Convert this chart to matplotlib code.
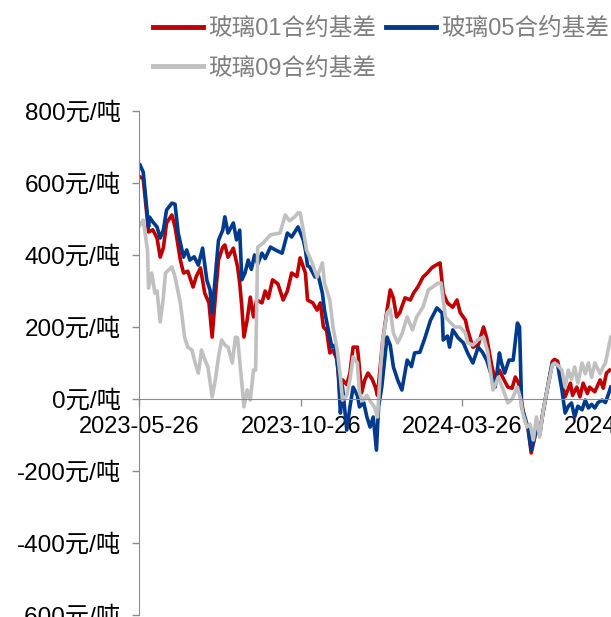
import matplotlib
matplotlib.use('Agg')
import matplotlib.pyplot as plt
import matplotlib.dates as mdates
from matplotlib.ticker import FixedLocator
import pandas as pd

plt.rcParams['font.family'] = ['Liberation Sans', 'Noto Sans CJK SC', 'DejaVu Sans']

# ---------------- data ----------------
labels = ['玻璃01合约基差', '玻璃05合约基差', '玻璃09合约基差']
colors = ['#C00000', '#003A8C', '#C0C0C0']

dates_01 = ['2023-05-27','2023-05-30','2023-06-04','2023-06-08','2023-06-12','2023-06-15','2023-06-18','2023-06-21',
            '2023-06-26','2023-06-29','2023-07-04','2023-07-07','2023-07-11','2023-07-16','2023-07-19','2023-07-23',
            '2023-07-27','2023-07-31','2023-08-03','2023-08-06','2023-08-09','2023-08-13','2023-08-15','2023-08-18',
            '2023-08-23','2023-08-27','2023-08-29','2023-08-31','2023-09-02','2023-09-05','2023-09-08','2023-09-11',
            '2023-09-14','2023-09-19','2023-09-22','2023-09-25','2023-09-29','2023-10-04','2023-10-09','2023-10-13',
            '2023-10-17','2023-10-22','2023-10-25','2023-10-30','2023-11-01','2023-11-06','2023-11-10','2023-11-13',
            '2023-11-16','2023-11-19','2023-11-22','2023-11-25','2023-11-29','2023-12-02','2023-12-04','2023-12-08',
            '2023-12-11','2023-12-14','2023-12-18','2023-12-19','2023-12-22','2023-12-25','2023-12-28','2024-01-01',
            '2024-01-04','2024-01-06','2024-01-08','2024-01-11','2024-01-15','2024-01-18','2024-01-21','2024-01-24',
            '2024-01-27','2024-02-01','2024-02-06','2024-02-09','2024-02-13','2024-02-18','2024-02-22','2024-02-26',
            '2024-02-29','2024-03-05','2024-03-08','2024-03-12','2024-03-14','2024-03-17','2024-03-21','2024-03-24',
            '2024-03-29','2024-03-31','2024-04-05','2024-04-10','2024-04-15','2024-04-18','2024-04-23','2024-04-26',
            '2024-04-30','2024-05-03','2024-05-08','2024-05-12','2024-05-15','2024-05-18','2024-05-21','2024-05-24',
            '2024-05-27','2024-05-30','2024-06-02','2024-06-04','2024-06-07','2024-06-10','2024-06-14','2024-06-19',
            '2024-06-21','2024-06-24','2024-06-28','2024-07-01','2024-07-06','2024-07-08','2024-07-12','2024-07-15',
            '2024-07-18','2024-07-22','2024-07-24','2024-07-29','2024-08-03','2024-08-06','2024-08-09','2024-08-12']
values_01 = [617, 612, 464, 470, 447, 394, 420, 489,
             511, 478, 386, 350, 355, 311, 340, 364,
             294, 267, 172, 283, 386, 422, 428, 394,
             419, 367, 322, 256, 172, 219, 283, 228,
             275, 267, 300, 280, 331, 320, 275, 300,
             350, 340, 392, 350, 275, 267, 247, 267,
             200, 190, 128, 135, 110, -3, 53, 40,
             72, 144, 144, 117, 17, 53, 72, 55,
             33, 10, 72, 164, 247, 303, 280, 228,
             240, 281, 275, 294, 311, 339, 350, 364,
             370, 378, 294, 267, 262, 255, 275, 240,
             219, 192, 144, 150, 200, 170, 89, 53,
             80, 61, 33, 30, 61, 45, -11, -58,
             -80, -150, -110, -67, -95, -39, 25, 105,
             110, 105, 44, 6, 44, 10, 33, 6,
             44, 15, 33, 20, 53, 30, 72, 80]

dates_05 = ['2023-05-27','2023-05-30','2023-06-04','2023-06-05','2023-06-08','2023-06-12','2023-06-15','2023-06-18',
            '2023-06-21','2023-06-26','2023-06-29','2023-07-02','2023-07-07','2023-07-10','2023-07-13','2023-07-17',
            '2023-07-21','2023-07-25','2023-07-29','2023-08-01','2023-08-03','2023-08-06','2023-08-09','2023-08-13',
            '2023-08-15','2023-08-18','2023-08-23','2023-08-26','2023-08-29','2023-08-31','2023-09-03','2023-09-06',
            '2023-09-09','2023-09-12','2023-09-15','2023-09-19','2023-09-22','2023-09-27','2023-10-01','2023-10-08',
            '2023-10-13','2023-10-17','2023-10-23','2023-10-28','2023-10-30','2023-11-01','2023-11-03','2023-11-08',
            '2023-11-11','2023-11-15','2023-11-17','2023-11-20','2023-11-24','2023-11-27','2023-11-30','2023-12-02',
            '2023-12-04','2023-12-08','2023-12-11','2023-12-14','2023-12-18','2023-12-20','2023-12-24','2023-12-27',
            '2023-12-30','2024-01-02','2024-01-05','2024-01-07','2024-01-10','2024-01-13','2024-01-15','2024-01-18',
            '2024-01-21','2024-01-25','2024-01-29','2024-02-03','2024-02-07','2024-02-10','2024-02-15','2024-02-20',
            '2024-02-25','2024-02-27','2024-03-02','2024-03-07','2024-03-08','2024-03-12','2024-03-14','2024-03-17',
            '2024-03-22','2024-03-27','2024-03-31','2024-04-05','2024-04-10','2024-04-14','2024-04-18','2024-04-23',
            '2024-04-26','2024-04-30','2024-05-02','2024-05-05','2024-05-09','2024-05-13','2024-05-17','2024-05-19',
            '2024-05-21','2024-05-24','2024-05-27','2024-05-30','2024-06-02','2024-06-04','2024-06-07','2024-06-10',
            '2024-06-14','2024-06-19','2024-06-21','2024-06-24','2024-06-28','2024-07-01','2024-07-04','2024-07-07',
            '2024-07-10','2024-07-13','2024-07-17','2024-07-20','2024-07-23','2024-07-26','2024-07-29','2024-08-01',
            '2024-08-05','2024-08-08','2024-08-10','2024-08-13']
values_05 = [650, 630, 478, 505, 492, 478, 447, 470,
             525, 544, 541, 461, 394, 414, 386, 395,
             372, 419, 330, 303, 239, 339, 441, 469,
             506, 461, 489, 442, 469, 331, 350, 386,
             360, 400, 375, 405, 390, 422, 415, 405,
             461, 450, 478, 442, 414, 370, 367, 339,
             345, 294, 247, 200, 144, 150, 72, -39,
             33, -86, -22, 33, 10, -22, -10, -50,
             -78, -50, -142, -22, 33, 117, 172, 150,
             89, 53, 25, 108, 90, 128, 130, 172,
             219, 230, 253, 239, 164, 175, 144, 192,
             170, 156, 128, 100, 144, 130, 108, 61,
             33, 128, 100, 72, 108, 108, 211, 200,
             -22, -50, -80, -142, -110, -78, -100, -39,
             25, 100, 100, 94, 25, -39, -20, -11,
             -50, -20, -30, -3, -25, -15, -25, -10,
             -3, -10, 6, 33]

dates_09 = ['2023-05-27','2023-05-30','2023-06-03','2023-06-04','2023-06-07','2023-06-10','2023-06-12','2023-06-15',
            '2023-06-18','2023-06-20','2023-06-26','2023-06-29','2023-07-04','2023-07-08','2023-07-11','2023-07-15',
            '2023-07-18','2023-07-21','2023-07-24','2023-07-27','2023-07-30','2023-08-03','2023-08-06','2023-08-09',
            '2023-08-12','2023-08-15','2023-08-18','2023-08-22','2023-08-25','2023-08-27','2023-08-31','2023-09-02',
            '2023-09-05','2023-09-08','2023-09-11','2023-09-13','2023-09-15','2023-09-20','2023-09-27','2023-10-06',
            '2023-10-11','2023-10-15','2023-10-20','2023-10-23','2023-10-25','2023-10-28','2023-10-31','2023-11-05',
            '2023-11-10','2023-11-15','2023-11-17','2023-11-22','2023-11-25','2023-11-29','2023-12-02','2023-12-04',
            '2023-12-08','2023-12-11','2023-12-14','2023-12-18','2023-12-20','2023-12-23','2023-12-27','2023-12-30',
            '2024-01-03','2024-01-06','2024-01-09','2024-01-11','2024-01-15','2024-01-18','2024-01-21','2024-01-25',
            '2024-01-29','2024-02-03','2024-02-08','2024-02-12','2024-02-18','2024-02-23','2024-02-27','2024-03-03',
            '2024-03-06','2024-03-10','2024-03-14','2024-03-19','2024-03-24','2024-03-29','2024-03-31','2024-04-05',
            '2024-04-10','2024-04-15','2024-04-19','2024-04-24','2024-04-29','2024-05-03','2024-05-08','2024-05-12',
            '2024-05-17','2024-05-20','2024-05-22','2024-05-26','2024-05-29','2024-06-01','2024-06-04','2024-06-07',
            '2024-06-10','2024-06-14','2024-06-19','2024-06-21','2024-06-24','2024-06-28','2024-07-01','2024-07-04',
            '2024-07-07','2024-07-10','2024-07-13','2024-07-17','2024-07-20','2024-07-23','2024-07-26','2024-07-29',
            '2024-08-03','2024-08-06','2024-08-08','2024-08-10','2024-08-13']
values_09 = [483, 497, 414, 308, 350, 294, 300, 214,
             283, 350, 367, 339, 267, 172, 144, 136,
             100, 72, 136, 110, 89, 6, 53, 117,
             164, 150, 144, 100, 172, 170, 44, -22,
             25, -3, 80, 80, 422, 433, 456, 461,
             511, 495, 506, 517, 517, 469, 414, 380,
             339, 378, 322, 275, 200, 136, 61, -3,
             10, 53, 117, 100, 17, -5, 10, -5,
             -22, -50, 89, 164, 239, 250, 183, 156,
             180, 228, 192, 228, 256, 303, 311, 322,
             322, 228, 215, 200, 200, 183, 156, 150,
             165, 172, 130, 25, 61, 30, -11, 0,
             33, 0, -39, -78, -70, -114, -50, -106,
             -39, 25, 95, 100, 94, 80, 33, 80,
             55, 89, 44, 100, 70, 100, 60, 100,
             70, 90, 100, 128, 172]

xticks = ['2023-05-26', '2023-10-26', '2024-03-26', '2024-08-26']
yticks = [-600, -400, -200, 0, 200, 400, 600, 800]
ytick_labels = [f'{v}元/吨' for v in yticks]

# ---------------- figure ----------------
W, H = 611, 617
fig = plt.figure(figsize=(W / 100, H / 100), dpi=100)
x_start, x_end = pd.Timestamp('2023-05-26'), pd.Timestamp('2024-09-26')
px_per_day = 1.06
ax_w = (x_end - x_start).days * px_per_day
ax = fig.add_axes([139 / W, 2 / H, ax_w / W, 504 / H])

series = [(dates_01, values_01), (dates_05, values_05), (dates_09, values_09)]
lines = []
for (d, v), lab, c in zip(series, labels, colors):
    ln, = ax.plot(pd.to_datetime(d), v, color=c, lw=2.6, label=lab, solid_joinstyle='round')
    lines.append(ln)

ax.set_xlim(x_start, x_end)
ax.set_ylim(-600, 800)

for s in ['top', 'right']:
    ax.spines[s].set_visible(False)
ax.spines['left'].set_color('#8C8C8C')
ax.spines['bottom'].set_color('#8C8C8C')
ax.spines['bottom'].set_position(('data', 0))

ax.xaxis.set_major_locator(FixedLocator(mdates.date2num(pd.to_datetime(xticks))))
ax.xaxis.set_major_formatter(mdates.DateFormatter('%Y-%m-%d'))
ax.set_yticks(yticks)
ax.set_yticklabels(ytick_labels)
ax.tick_params(axis='both', direction='out', length=5, width=1, color='#8C8C8C',
               labelcolor='black')
ax.tick_params(axis='x', pad=7, labelsize=17)
ax.tick_params(axis='y', pad=8, labelsize=17.5)

order = [0, 2, 1]
leg = fig.legend([lines[i] for i in order], [labels[i] for i in order], ncol=2,
                 loc='upper left', bbox_to_anchor=(153 / W, 1 - 18 / H), frameon=False,
                 fontsize=17, labelcolor='#7F7F7F', handlelength=2.1, handletextpad=0.25,
                 columnspacing=0.4, labelspacing=0.72, borderaxespad=0, borderpad=0)
for lh in leg.get_lines():
    lh.set_linewidth(3.5)

fig.savefig('out.png', dpi=100)
